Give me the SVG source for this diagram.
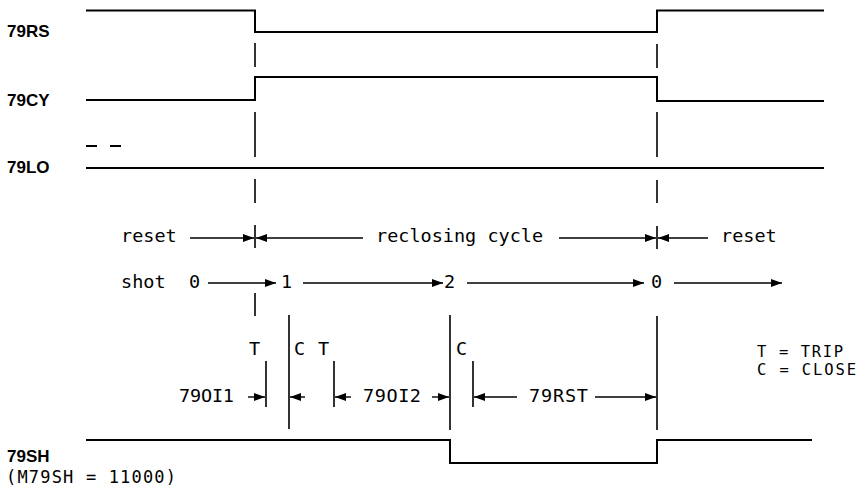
<svg xmlns="http://www.w3.org/2000/svg" width="859" height="496" viewBox="0 0 859 496">
<style>
.sig{fill:none;stroke:#000;stroke-width:2}
.v{fill:none;stroke:#000;stroke-width:1.6}
.a{fill:none;stroke:#000;stroke-width:1.4;marker-end:url(#ah)}
.lbl{font-family:"Liberation Sans",Arial,sans-serif;font-weight:bold;font-size:17px;fill:#000}
.m{font-family:"DejaVu Sans Mono","Liberation Mono",monospace;font-size:18.5px;fill:#000}
.k{font-family:"DejaVu Sans Mono","Liberation Mono",monospace;font-size:15.5px;fill:#000}
</style>
<defs>
<marker id="ah" markerUnits="userSpaceOnUse" markerWidth="12" markerHeight="9" refX="11" refY="4" orient="auto">
<path d="M0,0 L11,4 L0,8 z" fill="#000"/>
</marker>
</defs>
<rect width="859" height="496" fill="#fff"/>
<g id="labels">
<text class="lbl" x="7" y="37">79RS</text>
<text class="lbl" x="7" y="106">79CY</text>
<text class="lbl" x="7" y="173">79LO</text>
<text class="lbl" x="7" y="462">79SH</text>
<text class="m" x="6" y="483" style="font-size:17px" textLength="170">(M79SH = 11000)</text>
</g>
<g id="signals">
<path id="s79RS" class="sig" d="M86,10.5 H255 V32 H657 V10.5 H824"/>
<path id="s79CY" class="sig" d="M86,100 H255 V77 H657 V101 H824"/>
<path id="s79LO" class="sig" d="M86,168 H824"/>
<path id="s79LOdash" class="sig" d="M86,146 H97 M110,146 H121"/>
<path id="s79SH" class="sig" d="M86,440 H450 V463 H657 V440 H812"/>
</g>
<g id="texts">
<text class="m" x="121" y="242">reset</text>
<text class="m" x="376" y="242">reclosing cycle</text>
<text class="m" x="721" y="242">reset</text>
<text class="m" x="121" y="288">shot</text>
<text class="m" x="189" y="288">0</text>
<text class="m" x="281" y="288">1</text>
<text class="m" x="444" y="288">2</text>
<text class="m" x="651" y="288">0</text>
<text class="m" x="249" y="355">T</text>
<text class="m" x="294" y="355">C</text>
<text class="m" x="318" y="355">T</text>
<text class="m" x="456" y="355">C</text>
<text class="m" x="179" y="402" textLength="55">79OI1</text>
<text class="m" x="363" y="402" textLength="58">79OI2</text>
<text class="m" x="529" y="402" textLength="59">79RST</text>
<text class="k" x="757" y="357" textLength="86">T = TRIP</text>
<text class="k" x="757" y="375" textLength="99">C = CLOSE</text>
</g>
<g id="connectors">
<path class="v" d="M255,43 V67 M255,112 V157 M255,179 V203 M255,225 V248 M255,293 V316"/>
<path class="v" d="M657,44 V68 M657,112 V157 M657,180 V203 M657,226 V249 M657,316 V430"/>
<path class="v" d="M289,315 V429 M450,315 V430"/>
<path class="v" d="M266,361 V407 M334,361 V407 M473,361 V407"/>
<path class="a" d="M190,238 H254"/>
<path class="a" d="M363,238 H256"/>
<path class="a" d="M559,238 H656"/>
<path class="a" d="M708,238 H658"/>
<path class="a" d="M208,283 H276"/>
<path class="a" d="M303,283 H443"/>
<path class="a" d="M467,283 H644"/>
<path class="a" d="M674,283 H782"/>
<path class="a" d="M248,397 H265"/>
<path class="a" d="M305,397 H290"/>
<path class="a" d="M351,397 H335"/>
<path class="a" d="M432,397 H449"/>
<path class="a" d="M517,397 H474"/>
<path class="a" d="M595,397 H656"/>
</g>
</svg>
